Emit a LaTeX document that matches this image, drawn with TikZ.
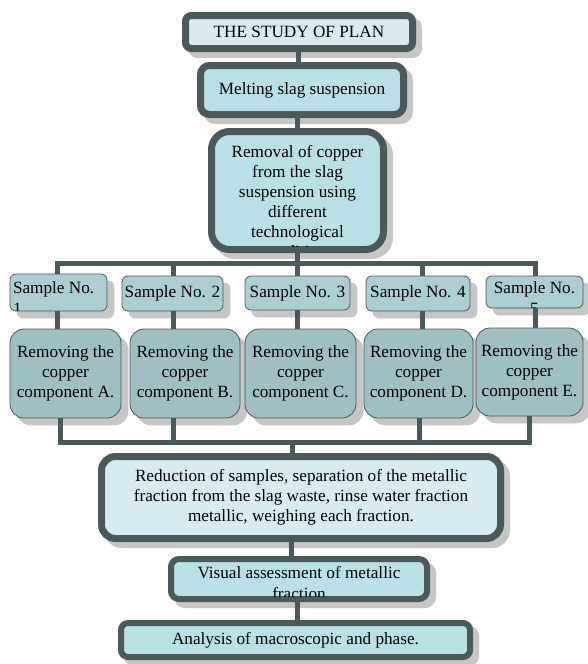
\documentclass[tikz,border=0pt]{standalone}
\usepackage{fontspec}
\setmainfont{Liberation Serif}
\definecolor{dk}{RGB}{74,89,90}
\definecolor{lta}{RGB}{214,236,240}
\definecolor{ltb}{RGB}{185,224,228}
\definecolor{smp}{RGB}{170,206,210}
\definecolor{rem}{RGB}{158,192,195}
\definecolor{shd}{RGB}{198,198,198}
\begin{document}
\begin{tikzpicture}[x=1pt,y=-1pt,
  every node/.style={font=\fontsize{17.2}{20}\selectfont, inner sep=0pt, outer sep=0pt, text=black},
  thickbox/.style={draw=dk, line width=7pt, align=center,
    preaction={fill=shd, draw=shd, transform canvas={xshift=6pt,yshift=-6pt}}},
  medbox/.style={draw=dk, line width=6pt, align=center,
    preaction={fill=shd, draw=shd, transform canvas={xshift=6pt,yshift=-6pt}}},
  thinbox/.style={draw=dk, line width=0.8pt, align=center,
    preaction={fill=shd, draw=shd, transform canvas={xshift=7pt,yshift=-7pt}}},
  conn/.style={draw=dk, line width=5pt, line join=miter}
]
\useasboundingbox (0,0) rectangle (587,664);

% top chain
\node[thickbox, fill=lta, minimum width=227pt, minimum height=33pt, rounded corners=6pt] (b1) at (299,32) {THE STUDY OF PLAN};
\node[thickbox, fill=ltb, minimum width=203pt, minimum height=49pt, rounded corners=9pt] (b2) at (302,90) {Melting slag suspension};
\node[thickbox, fill=ltb, minimum width=172pt, minimum height=118pt, rounded corners=18pt] (b3) at (297.5,190.5) {};

% samples
\node[thinbox, fill=smp, minimum width=97pt, minimum height=37pt, rounded corners=6pt] (s1) at (58.5,292.5) {};
\node[thinbox, fill=smp, minimum width=101pt, minimum height=35pt, rounded corners=6pt] (s2) at (172.5,293.5) {Sample No. 2};
\node[thinbox, fill=smp, minimum width=105pt, minimum height=34pt, rounded corners=6pt] (s3) at (297.5,293) {Sample No. 3};
\node[thinbox, fill=smp, minimum width=104pt, minimum height=35pt, rounded corners=6pt] (s4) at (418,293.5) {Sample No. 4};
\node[thinbox, fill=smp, minimum width=97pt, minimum height=32pt, rounded corners=6pt] (s5) at (534.5,292) {};

% removing boxes
\node[thinbox, fill=rem, minimum width=111pt, minimum height=89pt, rounded corners=14pt] (rA) at (65.5,373.5) {Removing the\\copper\\component A.};
\node[thinbox, fill=rem, minimum width=110pt, minimum height=89pt, rounded corners=14pt] (rB) at (185,373.5) {Removing the\\copper\\component B.};
\node[thinbox, fill=rem, minimum width=111pt, minimum height=89pt, rounded corners=14pt] (rC) at (300.5,373.5) {Removing the\\copper\\component C.};
\node[thinbox, fill=rem, minimum width=109pt, minimum height=89pt, rounded corners=14pt] (rD) at (418.5,373.5) {Removing the\\copper\\component D.};
\node[thinbox, fill=rem, minimum width=107pt, minimum height=88pt, rounded corners=14pt] (rE) at (529.5,372) {Removing the\\copper\\component E.};

% lower chain
\node[thickbox, fill=lta, minimum width=399pt, minimum height=82pt, rounded corners=14pt] (bb) at (301,497.5) {Reduction of samples, separation of the metallic\\fraction from the slag waste, rinse water fraction\\metallic, weighing each fraction.};
\node[medbox, fill=ltb, minimum width=256pt, minimum height=40pt, rounded corners=8pt] (va) at (299,579) {};
\node[medbox, fill=ltb, minimum width=349pt, minimum height=34pt, rounded corners=7pt] (an) at (295.5,640) {Analysis of macroscopic and phase.};

% clipped texts
\begin{scope}
  \clip ([xshift=3.5pt,yshift=-3.5pt]b3.north west) rectangle ([xshift=-3.5pt,yshift=3.5pt]b3.south east);
  \node[align=center] (b3t) at (297.5,202) {Removal of copper\\from the slag\\suspension using\\different\\technological\\conditions};
\end{scope}
\begin{scope}
  \clip ([xshift=0.4pt,yshift=-0.4pt]s1.north west) rectangle ([xshift=-0.4pt,yshift=0.4pt]s1.south east);
  \node[anchor=base west] (s1a) at (13,293) {Sample No.};
  \node[anchor=base west] (s1b) at (13,314) {1};
\end{scope}
\begin{scope}
  \clip ([xshift=0.4pt,yshift=-0.4pt]s5.north west) rectangle ([xshift=-0.4pt,yshift=0.4pt]s5.south east);
  \node[anchor=base] (s5a) at (534.5,293) {Sample No.};
  \node[anchor=base] (s5b) at (534.5,314) {5};
\end{scope}
\begin{scope}
  \clip ([xshift=3pt,yshift=-3pt]va.north west) rectangle ([xshift=-3pt,yshift=3pt]va.south east);
  \node[anchor=base] (vaa) at (299,578) {Visual assessment of metallic};
  \node[anchor=base] (vab) at (299,599) {fraction};
\end{scope}

% connectors
\coordinate (t1) at (57,263);
\coordinate (t2) at (173,263);
\coordinate (t3) at (297,263);
\coordinate (t4) at (422,263);
\coordinate (t5) at (535,263);
\coordinate (lA) at (60,442);
\coordinate (lB) at (173,442);
\coordinate (lM) at (292,442);
\coordinate (lD) at (419,442);
\coordinate (lE) at (529,442);

\draw[conn] (b1.south -| 298,0) -- (b2.north -| 298,0);
\draw[conn] (b2.south -| 297,0) -- (b3.north -| 297,0);
\draw[conn] (t3 |- b3.south) -- (t3);
\draw[conn] (t1 |- s1.north) -- (t1) -- (t5) -- (t5 |- s5.north);
\draw[conn] (t2) -- (t2 |- s2.north);
\draw[conn] (t3) -- (t3 |- s3.north);
\draw[conn] (t4) -- (t4 |- s4.north);

\draw[conn] (t1 |- s1.south) -- (t1 |- rA.north);
\draw[conn] (t2 |- s2.south) -- (t2 |- rB.north);
\draw[conn] (t3 |- s3.south) -- (t3 |- rC.north);
\draw[conn] (t4 |- s4.south) -- (t4 |- rD.north);
\draw[conn] (t5 |- s5.south) -- (t5 |- rE.north);

\draw[conn] (lA |- rA.south) -- (lA) -- (lE) -- (lE |- rE.south);
\draw[conn] (lB |- rB.south) -- (lB);
\draw[conn] (lD |- rD.south) -- (lD);
\draw[conn] (lM) -- (lM |- bb.north);

\draw[conn] (bb.south -| 291,0) -- (va.north -| 291,0);
\draw[conn] (va.south -| 297,0) -- (an.north -| 297,0);
\end{tikzpicture}
\end{document}
